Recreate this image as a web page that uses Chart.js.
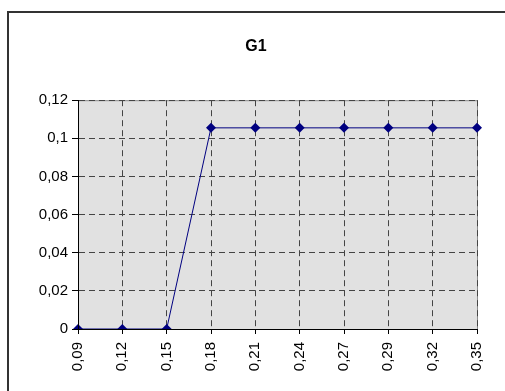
<!DOCTYPE html>
<html>
<head>
<meta charset="utf-8">
<script src="https://cdn.jsdelivr.net/npm/chart.js@4/dist/chart.umd.min.js"></script>
<style>
  body { margin: 0; background: #fff; }
  canvas { display: block; }
</style>
</head>
<body>
<canvas id="g1-chart" width="505" height="391"></canvas>
<script>
const xLabels = ['0,09', '0,12', '0,15', '0,18', '0,21', '0,24', '0,27', '0,29', '0,32', '0,35']
const g1Values = [0, 0, 0, 0.1055, 0.1055, 0.1055, 0.1055, 0.1055, 0.1055, 0.1055]
const yTickLabels = ['0', '0,02', '0,04', '0,06', '0,08', '0,1', '0,12']

const frame = {
    id: 'frame',
    beforeDraw: (chart) => {
        const ctx = chart.ctx
        const a = chart.chartArea
        ctx.save()
        // outer chart border (only top and left are inside the picture)
        ctx.strokeStyle = '#333'
        ctx.lineWidth = 2
        ctx.beginPath()
        ctx.moveTo(8, 391)
        ctx.lineTo(8, 12)
        ctx.lineTo(505, 12)
        ctx.stroke()
        // plot area
        ctx.fillStyle = '#e1e1e1'
        ctx.fillRect(a.left, a.top, a.right - a.left, a.bottom - a.top)
        ctx.strokeStyle = '#8a8a8a'
        ctx.lineWidth = 1
        ctx.strokeRect(a.left + 0.5, a.top + 0.5, a.right - a.left, a.bottom - a.top)
        ctx.restore()
    },
    afterDatasetsDraw: (chart) => {
        // solid black axis lines over the dashed grid
        const ctx = chart.ctx
        const a = chart.chartArea
        ctx.save()
        ctx.strokeStyle = '#000'
        ctx.lineWidth = 1
        ctx.beginPath()
        ctx.moveTo(a.left + 0.5, a.top)
        ctx.lineTo(a.left + 0.5, a.bottom + 0.5)
        ctx.lineTo(a.right, a.bottom + 0.5)
        ctx.stroke()
        ctx.restore()
    }
}

const font = { family: 'Arial, "Liberation Sans", sans-serif', size: 15 }

new Chart(document.getElementById('g1-chart'), {
    type: 'line',
    data: {
        labels: xLabels,
        datasets: [{
            label: 'G1',
            data: g1Values,
            borderColor: '#000080',
            backgroundColor: '#000080',
            borderWidth: 1,
            pointStyle: 'rectRot',
            pointRadius: 5,
            pointBorderWidth: 0,
            tension: 0
        }]
    },
    options: {
        responsive: false,
        animation: false,
        layout: { padding: { left: 35, right: 28, top: 0, bottom: 0 } },
        plugins: {
            legend: { display: false },
            tooltip: { enabled: false },
            title: {
                display: true,
                text: 'G1',
                color: '#000',
                font: { family: font.family, size: 16, weight: 'bold' },
                padding: { top: 37, bottom: 44 }
            }
        },
        scales: {
            x: {
                offset: false,
                grid: {
                    color: '#444',
                    tickBorderDash: [],
                    tickColor: '#000',
                    tickLength: 5
                },
                border: { color: '#000', width: 1, dash: [6, 4] },
                ticks: {
                    color: '#000',
                    font: font,
                    minRotation: 90,
                    maxRotation: 90,
                    padding: 8,
                    autoSkip: false
                },
                afterFit: (scale) => { scale.height = 62 }
            },
            y: {
                min: 0,
                max: 0.12,
                grid: {
                    color: '#444',
                    tickBorderDash: [],
                    tickColor: '#000',
                    tickLength: 6
                },
                border: { color: '#000', width: 1, dash: [6, 4] },
                ticks: {
                    stepSize: 0.02,
                    color: '#000',
                    font: font,
                    padding: 4,
                    callback: (value, index) => yTickLabels[index]
                },
                afterFit: (scale) => { scale.width = 43 }
            }
        }
    },
    plugins: [frame]
})
</script>
</body>
</html>
